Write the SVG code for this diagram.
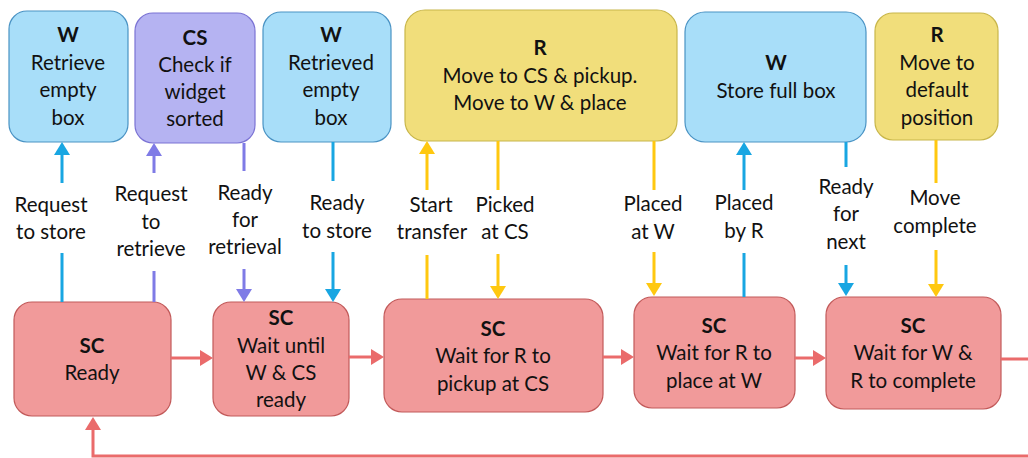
<svg xmlns="http://www.w3.org/2000/svg" width="1028" height="458" viewBox="0 0 1028 458">
  <style>
    text { font-family: Lato, "Liberation Sans", sans-serif; font-size: 20.5px; fill: #111; text-anchor: middle; }
    .b { font-weight: bold; }
    .w { fill: #a8def9; stroke: #4a93c4; stroke-width: 1.2; }
    .cs { fill: #b5b3f2; stroke: #7b73d4; stroke-width: 1.2; }
    .r { fill: #f1de7b; stroke: #c8b64a; stroke-width: 1.2; }
    .sc { fill: #f19a9a; stroke: #c25a5a; stroke-width: 1.2; }
    .lb { stroke: #18a6e2; stroke-width: 3; fill: none; }
    .lp { stroke: #7f7be6; stroke-width: 3; fill: none; }
    .ly { stroke: #ffc80f; stroke-width: 3; fill: none; }
    .lr { stroke: #ea6b6b; stroke-width: 3; fill: none; }
    .hb { fill: #18a6e2; }
    .hp { fill: #7f7be6; }
    .hy { fill: #ffc80f; }
    .hr { fill: #ea6b6b; }
  </style>
  <rect width="1028" height="458" fill="#ffffff"/>

  <!-- top row: warehouse, sorter and robot tasks -->
  <g id="w-retrieve">
    <rect class="w" x="9" y="11" width="119" height="131" rx="18"/>
    <text class="b" x="68" y="42">W</text>
    <text x="68" y="70">Retrieve</text>
    <text x="68" y="97">empty</text>
    <text x="68" y="125">box</text>
  </g>
  <g id="cs-check">
    <rect class="cs" x="135" y="13" width="120" height="130" rx="18"/>
    <text class="b" x="195" y="45">CS</text>
    <text x="195" y="72">Check if</text>
    <text x="195" y="99">widget</text>
    <text x="195" y="126">sorted</text>
  </g>
  <g id="w-retrieved">
    <rect class="w" x="263" y="12" width="128" height="130" rx="18"/>
    <text class="b" x="331" y="42">W</text>
    <text x="331" y="70">Retrieved</text>
    <text x="331" y="97">empty</text>
    <text x="331" y="125">box</text>
  </g>
  <g id="r-transfer">
    <rect class="r" x="405" y="10" width="272" height="131" rx="20"/>
    <text class="b" x="540" y="55">R</text>
    <text x="540" y="83">Move to CS &amp; pickup.</text>
    <text x="540" y="110">Move to W &amp; place</text>
  </g>
  <g id="w-store">
    <rect class="w" x="685" y="12" width="181" height="130" rx="20"/>
    <text class="b" x="776" y="70">W</text>
    <text x="776" y="98">Store full box</text>
  </g>
  <g id="r-default">
    <rect class="r" x="875" y="13" width="123" height="127" rx="18"/>
    <text class="b" x="937" y="42">R</text>
    <text x="937" y="70">Move to</text>
    <text x="937" y="97">default</text>
    <text x="937" y="125">position</text>
  </g>

  <!-- bottom row: sequence controller states -->
  <g id="sc-ready">
    <rect class="sc" x="14" y="302" width="157" height="114" rx="18"/>
    <text class="b" x="92" y="353">SC</text>
    <text x="92" y="380">Ready</text>
  </g>
  <g id="sc-wait-ready">
    <rect class="sc" x="213" y="302" width="136" height="114" rx="18"/>
    <text class="b" x="281" y="325">SC</text>
    <text x="281" y="353">Wait until</text>
    <text x="281" y="380">W &amp; CS</text>
    <text x="281" y="407">ready</text>
  </g>
  <g id="sc-wait-pickup">
    <rect class="sc" x="384" y="299" width="219" height="113" rx="18"/>
    <text class="b" x="493" y="336">SC</text>
    <text x="493" y="363">Wait for R to</text>
    <text x="493" y="391">pickup at CS</text>
  </g>
  <g id="sc-wait-place">
    <rect class="sc" x="634" y="297" width="161" height="111" rx="18"/>
    <text class="b" x="714" y="333">SC</text>
    <text x="714" y="360">Wait for R to</text>
    <text x="714" y="388">place at W</text>
  </g>
  <g id="sc-wait-complete">
    <rect class="sc" x="826" y="297" width="175" height="112" rx="18"/>
    <text class="b" x="913" y="333">SC</text>
    <text x="913" y="360">Wait for W &amp;</text>
    <text x="913" y="388">R to complete</text>
  </g>

  <!-- connectors: signals between controller and stations -->
  <g id="connectors">
    <!-- Request to store (up, blue) -->
    <path class="lb" d="M62 302 V253 M62 183 V154"/>
    <polygon class="hb" points="62,142 70,155 54,155"/>
    <text x="51" y="212">Request</text>
    <text x="51" y="239">to store</text>

    <!-- Request to retrieve (up, purple) -->
    <path class="lp" d="M154 302 V271 M154 173 V155"/>
    <polygon class="hp" points="154,143 162,156 146,156"/>
    <text x="151" y="201">Request</text>
    <text x="151" y="229">to</text>
    <text x="151" y="256">retrieve</text>

    <!-- Ready for retrieval (down, purple) -->
    <path class="lp" d="M244 143 V171 M244 269 V290"/>
    <polygon class="hp" points="244,302 236,289 252,289"/>
    <text x="245" y="200">Ready</text>
    <text x="245" y="227">for</text>
    <text x="245" y="254">retrieval</text>

    <!-- Ready to store (down, blue) -->
    <path class="lb" d="M333 142 V181 M333 252 V290"/>
    <polygon class="hb" points="333,302 325,289 341,289"/>
    <text x="337" y="210">Ready</text>
    <text x="337" y="238">to store</text>

    <!-- Start transfer (up, yellow) -->
    <path class="ly" d="M427 299 V255 M427 190 V153"/>
    <polygon class="hy" points="427,141 435,154 419,154"/>
    <text x="431" y="212">Start</text>
    <text x="432" y="239">transfer</text>

    <!-- Picked at CS (down, yellow) -->
    <path class="ly" d="M498 141 V190 M498 254 V287"/>
    <polygon class="hy" points="498,299 490,286 506,286"/>
    <text x="505" y="212">Picked</text>
    <text x="505" y="239">at CS</text>

    <!-- Placed at W (down, yellow) -->
    <path class="ly" d="M654 141 V190 M654 252 V284"/>
    <polygon class="hy" points="654,296 646,283 662,283"/>
    <text x="653" y="211">Placed</text>
    <text x="653" y="239">at W</text>

    <!-- Placed by R (up, blue) -->
    <path class="lb" d="M744 297 V253 M744 190 V154"/>
    <polygon class="hb" points="744,142 752,155 736,155"/>
    <text x="744" y="210">Placed</text>
    <text x="744" y="238">by R</text>

    <!-- Ready for next (down, blue) -->
    <path class="lb" d="M846 142 V167 M846 265 V284"/>
    <polygon class="hb" points="846,296 838,283 854,283"/>
    <text x="846" y="194">Ready</text>
    <text x="846" y="221">for</text>
    <text x="846" y="249">next</text>

    <!-- Move complete (down, yellow) -->
    <path class="ly" d="M936 140 V183 M936 250 V285"/>
    <polygon class="hy" points="936,297 928,284 944,284"/>
    <text x="935" y="205">Move</text>
    <text x="935" y="233">complete</text>

    <!-- state transitions (red) -->
    <path class="lr" d="M171 358 H201"/>
    <polygon class="hr" points="213,358 200,350 200,366"/>
    <path class="lr" d="M349 357 H372"/>
    <polygon class="hr" points="384,357 371,349 371,365"/>
    <path class="lr" d="M603 357 H622"/>
    <polygon class="hr" points="634,357 621,349 621,365"/>
    <path class="lr" d="M795 358 H814"/>
    <polygon class="hr" points="826,358 813,350 813,366"/>

    <!-- loop back to Ready -->
    <path class="lr" d="M1001 359 H1030 M1030 456 H93 V429"/>
    <polygon class="hr" points="93,417 101,430 85,430"/>
  </g>
</svg>
